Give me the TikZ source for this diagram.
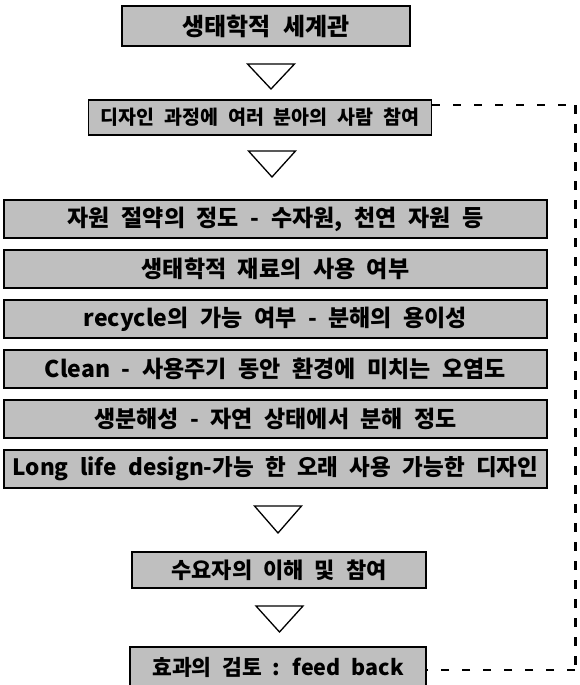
\documentclass[tikz,border=0pt]{standalone}
\usepackage{fontspec}
\setmainfont{Noto Sans CJK KR}[WordSpace=2.2]
\begin{document}
\begin{tikzpicture}[x=1pt,y=-1pt,
  box/.style={draw=black, line width=1.5pt, fill=black!25, inner sep=0pt,
    minimum height=38pt, font=\fontsize{23}{23}\selectfont\bfseries, text=black},
  tri/.style={draw=black, line width=1.3pt, fill=white, line join=miter},
  fb/.style={draw=black, line width=2.8pt, dash pattern=on 8pt off 13pt}]
\useasboundingbox (0,0) rectangle (579,685);
\node[box, minimum width=288pt, minimum height=40pt, font=\fontsize{24}{24}\selectfont\bfseries] (b1) at (266,26) {생태학적 세계관};
\node[box, minimum width=343pt, minimum height=35pt, font=\fontsize{19.5}{19.5}\selectfont\bfseries] (b2) at (260,117.5) {디자인 과정에 여러 분아의 사람 참여};
\node[box, minimum width=543pt] (b3) at (275.5,219) {자원 절약의 정도 - 수자원, 천연 자원 등};
\node[box, minimum width=543pt] (b4) at (275.5,269) {생태학적 재료의 사용 여부};
\node[box, minimum width=543pt] (b5) at (275.5,319) {recycle의 가능 여부 - 분해의 용이성};
\node[box, minimum width=543pt] (b6) at (275.5,369) {Clean - 사용주기 동안 환경에 미치는 오염도};
\node[box, minimum width=543pt] (b7) at (275.5,419) {생분해성 - 자연 상태에서 분해 정도};
\node[box, minimum width=543pt, font=\fontsize{22.5}{22.5}\selectfont\bfseries] (b8) at (275.5,469) {Long life design-가능 한 오래 사용 가능한 디자인};
\node[box, minimum width=294pt, minimum height=36pt, font=\fontsize{22}{22}\selectfont\bfseries] (b9) at (279,570) {수요자의 이해 및 참여};
\node[box, minimum width=296pt, minimum height=40pt, font=\fontsize{21.5}{21.5}\selectfont\bfseries] (b10) at (278,667) {효과의 검토 : feed back};
% triangles
\draw[tri] (247.5,64) -- (294.5,64) -- (271,89) -- cycle;
\draw[tri] (248.5,151) -- (295.5,151) -- (272,177) -- cycle;
\draw[tri] (254.5,506) -- (301.5,506) -- (278,533) -- cycle;
\draw[tri] (256,606) -- (303,606) -- (279.5,632) -- cycle;
% feedback loop
\coordinate (c1) at (575,105);
\coordinate (c2) at (575,670);
\draw[fb] (b2.east |- c1) -- (c1);
\draw[fb, line width=3pt, dash pattern=on 9pt off 10pt] (c1) -- (c2);
\draw[fb] (c2) -- (b10.east |- c2);
\end{tikzpicture}
\end{document}
